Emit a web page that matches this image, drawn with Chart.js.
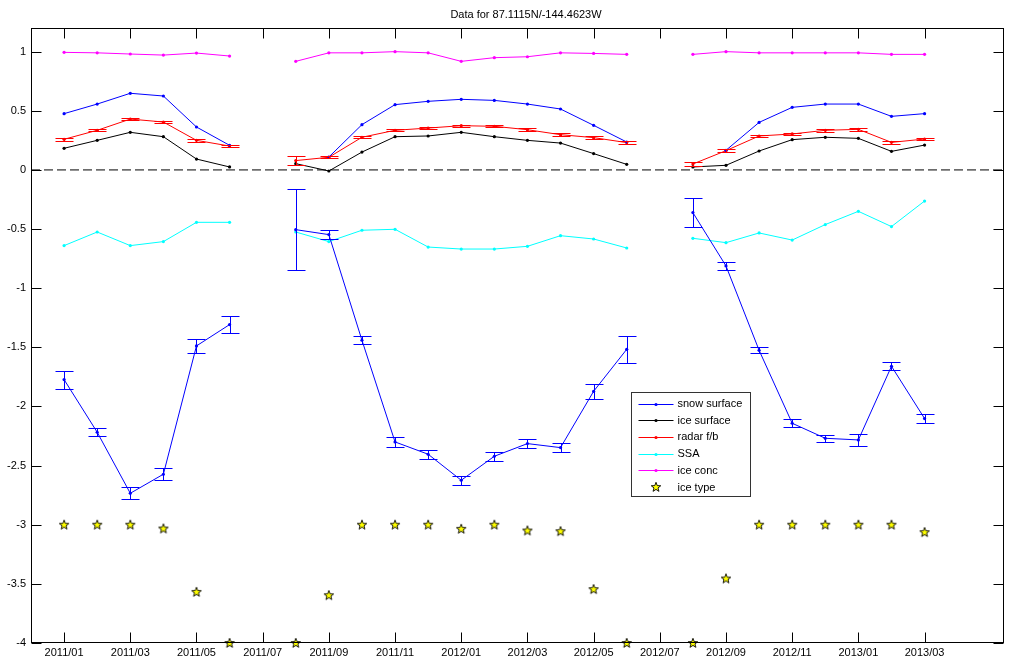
<!DOCTYPE html>
<html><head><meta charset="utf-8">
<script src="https://cdn.jsdelivr.net/npm/chart.js@4.4.0/dist/chart.umd.min.js"></script>
<style>html,body{margin:0;padding:0;background:#fff;}canvas{display:block;}</style>
</head><body>
<canvas id="c" width="1015" height="660"></canvas>
<script>
const titleText = 'Data for 87.1115N/-144.4623W';
const months = ['2011/01','2011/02','2011/03','2011/04','2011/05','2011/06','2011/07','2011/08','2011/09','2011/10','2011/11','2011/12',
  '2012/01','2012/02','2012/03','2012/04','2012/05','2012/06','2012/07','2012/08','2012/09','2012/10','2012/11','2012/12',
  '2013/01','2013/02','2013/03'];
const tickLabels = ['2011/01','2011/03','2011/05','2011/07','2011/09','2011/11','2012/01','2012/03','2012/05','2012/07','2012/09','2012/11','2013/01','2013/03'];
const yTickValues = [-4,-3.5,-3,-2.5,-2,-1.5,-1,-0.5,0,0.5,1];

const snowSurface = [0.476,0.557,0.648,0.625,0.363,0.208,null,null,0.109,0.383,0.552,0.580,0.597,0.588,0.557,0.515,0.377,0.236,null,null,0.166,0.402,0.529,0.557,0.557,0.453,0.476];
const iceSurface  = [0.183,0.250,0.318,0.281,0.092,0.025,null,0.053,-0.009,0.151,0.281,0.287,0.318,0.281,0.250,0.227,0.138,0.047,null,0.025,0.039,0.160,0.256,0.276,0.267,0.157,0.210];
const radarFb     = [0.259,0.335,0.430,0.405,0.250,0.202,null,0.079,0.107,0.276,0.335,0.354,0.374,0.369,0.340,0.298,0.273,0.231,null,0.050,0.163,0.287,0.304,0.335,0.343,0.233,0.261];
const radarFbErr  = [0.011,0.010,0.010,0.010,0.010,0.010,null,0.037,0.010,0.010,0.010,0.010,0.010,0.010,0.012,0.012,0.012,0.014,null,0.013,0.010,0.010,0.010,0.012,0.013,0.012,0.010];
const ssa         = [-0.640,-0.525,-0.640,-0.606,-0.443,-0.443,null,-0.525,-0.606,-0.510,-0.502,-0.652,-0.669,-0.669,-0.646,-0.556,-0.584,-0.660,null,-0.578,-0.615,-0.533,-0.593,-0.462,-0.350,-0.479,-0.263];
const iceConc     = [0.994,0.990,0.980,0.971,0.988,0.963,null,0.918,0.990,0.990,1.000,0.990,0.918,0.949,0.957,0.990,0.985,0.977,null,0.977,1.000,0.990,0.990,0.990,0.990,0.977,0.977];
const lowerBlue   = [-1.773,-2.218,-2.734,-2.573,-1.488,-1.308,null,-0.505,-0.547,-1.440,-2.300,-2.404,-2.624,-2.421,-2.314,-2.348,-1.872,-1.517,null,-0.361,-0.812,-1.525,-2.142,-2.269,-2.283,-1.660,-2.102];
const lowerBlueErr= [0.076,0.034,0.052,0.050,0.060,0.075,null,0.344,0.040,0.035,0.042,0.040,0.036,0.040,0.040,0.037,0.062,0.117,null,0.120,0.033,0.027,0.033,0.031,0.050,0.033,0.042];
const iceType     = [-3.0,-3.0,-3.0,-3.032,-3.568,-4.0,null,-4.0,-3.596,-3.0,-3.0,-3.0,-3.035,-3.0,-3.049,-3.055,-3.545,-4.0,null,-4.0,-3.455,-3.0,-3.0,-3.0,-3.0,-3.0,-3.063];

const FONT = '"Liberation Sans", Arial, Helvetica, sans-serif';

function pts(arr){ return months.map((m,i)=>({x:i, y:arr[i]})); }

function makeStar(){
  const c = document.createElement('canvas');
  c.width = 12; c.height = 12;
  const g = c.getContext('2d');
  const cx = 6, cy = 6.3, R = 5, r = 2.1;
  g.beginPath();
  for (let k=0;k<10;k++){
    const ang = -Math.PI/2 + k*Math.PI/5;
    const rad = (k%2===0)?R:r;
    const px = cx + rad*Math.cos(ang), py = cy + rad*Math.sin(ang);
    if(k===0) g.moveTo(px,py); else g.lineTo(px,py);
  }
  g.closePath();
  g.fillStyle = '#ffff00'; g.fill();
  g.strokeStyle = '#000'; g.lineWidth = 0.9; g.stroke();
  return c;
}
const starImg = makeStar();

function lineDs(label, arr, color, extra){
  return Object.assign({
    label, data: pts(arr), borderColor: color, backgroundColor: color,
    borderWidth: 1, pointRadius: 1.6, pointBorderWidth: 0, pointHoverRadius: 0,
    spanGaps: false, inLegend: true, showLine: true, clip: false
  }, extra||{});
}

const datasets = [
  {label:'zero', data:[{x:-1,y:0},{x:28.4,y:0}], borderColor:'#000', borderWidth:1, borderDash:[9,4], pointRadius:0, showLine:true, inLegend:false},
  lineDs('', lowerBlue, '#0000ff', {inLegend:false, errors: lowerBlueErr}),
  lineDs('snow surface', snowSurface, '#0000ff'),
  lineDs('ice surface', iceSurface, '#000000'),
  lineDs('radar f/b', radarFb, '#ff0000', {errors: radarFbErr}),
  lineDs('SSA', ssa, '#00ffff'),
  lineDs('ice conc', iceConc, '#ff00ff'),
  {label:'ice type', data: pts(iceType), showLine:false, pointStyle: starImg, pointRadius:5, pointHoverRadius:5, inLegend:true, isStar:true, clip:false, borderColor:'#000', backgroundColor:'#ffff00'}
];

const framePlugin = {
  id: 'frame',
  afterDatasetsDraw(chart){
    const ctx = chart.ctx, xs = chart.scales.x, ys = chart.scales.y;
    chart.data.datasets.forEach(ds => {
      if(!ds.errors) return;
      ctx.save();
      ctx.strokeStyle = ds.borderColor; ctx.lineWidth = 1;
      ds.data.forEach((p,i) => {
        const e = ds.errors[i];
        if(p.y === null || e === null) return;
        const px = Math.round(xs.getPixelForValue(p.x)) + 0.5;
        const yt = Math.round(ys.getPixelForValue(p.y + e)) + 0.5;
        const yb = Math.round(ys.getPixelForValue(p.y - e)) + 0.5;
        ctx.beginPath();
        ctx.moveTo(px, yt); ctx.lineTo(px, yb);
        ctx.moveTo(px-9, yt); ctx.lineTo(px+9, yt);
        ctx.moveTo(px-9, yb); ctx.lineTo(px+9, yb);
        ctx.stroke();
      });
      ctx.restore();
    });
  },
  afterDraw(chart){
    const ctx = chart.ctx, a = chart.chartArea, xs = chart.scales.x, ys = chart.scales.y;
    const L = Math.round(a.left)+0.5, R = Math.round(a.right)-0.5, T = Math.round(a.top)+0.5, B = Math.round(a.bottom)-0.5;
    ctx.save();
    ctx.strokeStyle = '#000'; ctx.lineWidth = 1;
    ctx.strokeRect(L, T, R-L, B-T);
    ctx.beginPath();
    xs.ticks.forEach(t => {
      const px = Math.round(xs.getPixelForValue(t.value)) + 0.5;
      ctx.moveTo(px, B); ctx.lineTo(px, B-10);
      ctx.moveTo(px, T); ctx.lineTo(px, T+10);
    });
    ys.ticks.forEach(t => {
      const py = Math.round(ys.getPixelForValue(t.value)) + 0.5;
      ctx.moveTo(L, py); ctx.lineTo(L+10, py);
      ctx.moveTo(R, py); ctx.lineTo(R-10, py);
    });
    ctx.stroke();
    // title
    ctx.fillStyle = '#000';
    ctx.font = '11px ' + FONT;
    ctx.textAlign = 'center'; ctx.textBaseline = 'middle';
    ctx.fillText(titleText, a.left + 495, 15);
    // legend
    const bx = Math.round(a.left) + 600 + 0.5, by = Math.round(a.top) + 364 + 0.5, bw = 119, bh = 104;
    ctx.fillStyle = '#fff';
    ctx.fillRect(bx, by, bw, bh);
    ctx.strokeStyle = '#333'; ctx.lineWidth = 1;
    ctx.strokeRect(bx, by, bw, bh);
    const items = chart.data.datasets.filter(d => d.inLegend);
    items.forEach((d, k) => {
      const yy = by + 11 + k*16.7;
      const xm = bx + 24.5;
      if(d.isStar){
        ctx.drawImage(starImg, xm - 6, yy - 6);
      } else {
        ctx.strokeStyle = d.borderColor; ctx.lineWidth = 1;
        ctx.beginPath(); ctx.moveTo(bx+7, Math.round(yy)+0.5); ctx.lineTo(bx+42, Math.round(yy)+0.5); ctx.stroke();
        ctx.fillStyle = d.borderColor;
        ctx.beginPath(); ctx.arc(xm, Math.round(yy)+0.5, 1.6, 0, Math.PI*2); ctx.fill();
      }
      ctx.fillStyle = '#000';
      ctx.font = '11px ' + FONT;
      ctx.textAlign = 'left'; ctx.textBaseline = 'middle';
      ctx.fillText(d.label, bx + 46, yy + 0.5);
    });
    ctx.restore();
  }
};

new Chart(document.getElementById('c'), {
  type: 'scatter',
  data: { datasets },
  options: {
    responsive: false, animation: false, events: [],
    layout: { padding: { top: 28, right: 11, left: 0, bottom: 0 } },
    plugins: { legend: { display: false }, tooltip: { enabled: false }, title: { display: false } },
    scales: {
      x: {
        type: 'linear', min: -1, max: 28.4,
        afterBuildTicks: s => { s.ticks = tickLabels.map((lab, k) => ({ value: k*2 })); },
        afterFit: s => { s.height = 17; },
        grid: { display: false, drawTicks: false },
        border: { display: false },
        ticks: { autoSkip: false, maxRotation: 0, padding: 3, color: '#000', font: { family: FONT, size: 11 },
          callback: v => tickLabels[Math.round(v/2)] }
      },
      y: {
        type: 'linear', min: -4, max: 1.2,
        afterBuildTicks: s => { s.ticks = yTickValues.map(v => ({ value: v })); },
        afterFit: s => { s.width = 31; },
        grid: { display: false, drawTicks: false },
        border: { display: false },
        ticks: { padding: 5, color: '#000', font: { family: FONT, size: 11 }, callback: v => String(v) }
      }
    }
  },
  plugins: [framePlugin]
});
</script>
</body></html>
